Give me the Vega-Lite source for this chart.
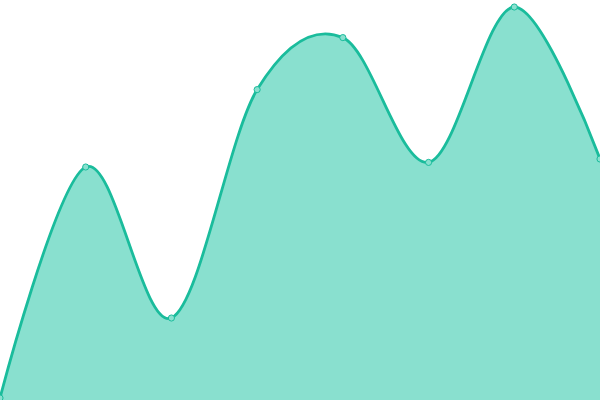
{
  "$schema": "https://vega.github.io/schema/vega-lite/v6.json",
  "width": 600,
  "height": 400,
  "autosize": {"type": "none"},
  "padding": 0,
  "data": {
    "values": [
      {"i": 0, "v": 0.5},
      {"i": 1, "v": 58.25},
      {"i": 2, "v": 20.5},
      {"i": 3, "v": 77.6},
      {"i": 4, "v": 90.6},
      {"i": 5, "v": 59.4},
      {"i": 6, "v": 98.25},
      {"i": 7, "v": 60.25}
    ]
  },
  "encoding": {
    "x": {"field": "i", "type": "quantitative", "scale": {"domain": [0, 7], "nice": false, "zero": false}, "axis": null},
    "y": {"field": "v", "type": "quantitative", "scale": {"domain": [0, 100], "nice": false}, "axis": null}
  },
  "layer": [
    {"mark": {"type": "area", "interpolate": "cardinal", "color": "#89e0cf", "opacity": 1}},
    {"mark": {"type": "line", "interpolate": "cardinal", "color": "#1abc9c", "strokeWidth": 2.8}},
    {"mark": {"type": "point", "filled": true, "fill": "#89e0cf", "stroke": "#1abc9c", "strokeWidth": 1, "size": 38, "opacity": 1}}
  ],
  "config": {"view": {"stroke": null}}
}
